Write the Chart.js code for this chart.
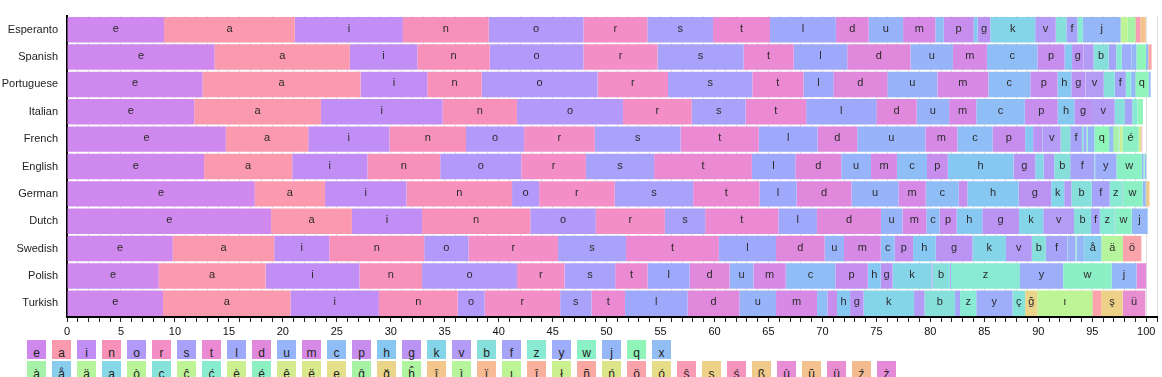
<!DOCTYPE html>
<html>
<head>
<meta charset="utf-8">
<script src="https://cdn.jsdelivr.net/npm/chart.js@4"></script>
<style>
  body { margin: 0; background: #fff; font-family: "Liberation Sans", Arial, sans-serif; }
  #wrap { position: relative; width: 1162px; height: 377px; overflow: hidden; }
  #freqChart { display: block; }
  #legend { position: absolute; left: 0; top: 340px; }
  .key { position: absolute; width: 19px; height: 19px; box-sizing: border-box; padding-top: 7px;
         font-size: 12px; line-height: 12px; text-align: center; color: #222; }
</style>
</head>
<body>
<div id="wrap">
  <canvas id="freqChart" width="1162" height="340"></canvas>
  <div id="legend"></div>
</div>
<script>
const languages = ["Esperanto", "Spanish", "Portuguese", "Italian", "French", "English",
  "German", "Dutch", "Swedish", "Polish", "Turkish"];

// stacking order of the plain letters
const baseLetters = ["e", "a", "i", "n", "o", "r", "s", "t", "l", "d", "u", "m", "c",
  "p", "h", "g", "k", "v", "b", "f", "z", "y", "w", "j", "q", "x"];
const baseColors = ["#cf88ed", "#fb9aae", "#c18ef5", "#f891ba", "#b399f9", "#f38fc6",
  "#a9a2fb", "#eb8ad3", "#9fa9fc", "#e088dc", "#97b3fa", "#d78ae5", "#8fbdf6", "#c78eee",
  "#87c8f2", "#bb93f3", "#85d5e8", "#b49bf6", "#87dfdc", "#a5a4f9", "#89ead3", "#9eaefa",
  "#8cf0c5", "#95b7f7", "#8ff5b9", "#92bef3"];

const accentLetters = ["à", "å", "ä", "ą", "ò", "ç", "ĉ", "ć", "è", "é", "ê", "ë", "ę",
  "ĝ", "ğ", "ĥ", "î", "ì", "ï", "ı", "ĵ", "ł", "ñ", "ń", "ö", "ó", "ŝ", "ş", "ś", "ß",
  "ù", "ŭ", "ü", "ź", "ż"];
const accentColors = ["#a6f2a8", "#88cdee", "#b6f59b", "#87d8e6", "#b9f598", "#87e2da",
  "#bff496", "#8aecce", "#cbef91", "#8df0c2", "#d3eb8e", "#dae88c", "#e3df8a", "#a6f3a6",
  "#ebd58a", "#aff5a0", "#f3c68e", "#b6f59b", "#f6bb95", "#bdf596", "#f8b19c", "#cbf08f",
  "#faa9a2", "#dde58a", "#fba3aa", "#e7dc88", "#f99bb4", "#edd189", "#f694be", "#f0ca8b",
  "#e88dd6", "#f3c28f", "#ea8ed2", "#f4bb91", "#e58ad8"];

// percentages, in baseLetters order
const esperanto = [8.995, 12.117, 10.012, 7.955, 8.779, 5.914, 6.092, 5.276, 6.104, 3.044, 3.183, 2.994, 0.776, 2.755, 0.384, 1.171, 4.163, 1.904, 0.980, 1.037, 0.494, 0, 0, 3.501, 0, 0];
const spanish = [13.68, 12.53, 6.25, 6.71, 8.68, 6.87, 7.98, 4.63, 4.97, 5.86, 3.93, 3.15, 4.68, 2.51, 0.70, 1.07, 0.01, 0.90, 1.42, 0.69, 0.52, 0.90, 0.01, 0.44, 0.88, 0.22];
const portuguese = [12.57, 14.63, 6.18, 5.05, 10.73, 6.53, 7.81, 4.74, 2.78, 4.99, 4.63, 4.74, 3.88, 2.52, 1.28, 1.30, 0.02, 1.67, 1.04, 1.02, 0.47, 0.01, 0.01, 0.40, 1.20, 0.21];
const italian = [11.79, 11.74, 11.28, 6.88, 9.83, 6.37, 4.98, 5.62, 6.51, 3.73, 3.01, 2.51, 4.50, 3.05, 1.54, 1.64, 0, 2.10, 0.92, 0.70, 0.49, 0, 0, 0, 0.51, 0];
const french = [14.715, 7.636, 7.529, 7.095, 5.378, 6.553, 7.948, 7.244, 5.456, 3.669, 6.311, 2.968, 3.260, 3.021, 0.737, 0.866, 0.049, 1.628, 0.901, 1.066, 0.136, 0.308, 0.114, 0.613, 1.362, 0.387];
const english = [12.702, 8.167, 6.966, 6.749, 7.507, 5.987, 6.327, 9.056, 4.025, 4.253, 2.758, 2.406, 2.782, 1.929, 6.094, 2.015, 0.772, 0.978, 1.492, 2.228, 0.074, 1.974, 2.360, 0.153, 0.095, 0.150];
const german = [17.40, 6.51, 7.55, 9.78, 2.51, 7.00, 7.27, 6.15, 3.44, 5.08, 4.35, 2.53, 3.06, 0.79, 4.76, 3.01, 1.21, 0.67, 1.89, 1.66, 1.13, 0.04, 1.89, 0.27, 0.02, 0.03];
const dutch = [18.91, 7.49, 6.50, 10.03, 6.06, 6.41, 3.73, 6.79, 3.57, 5.93, 1.99, 2.21, 1.24, 1.57, 2.38, 3.40, 2.25, 2.85, 1.58, 0.81, 1.39, 0.04, 1.52, 1.46, 0.01, 0.04];
const swedish = [9.8, 9.4, 5.1, 8.8, 4.1, 8.3, 6.3, 8.6, 5.3, 4.5, 1.8, 3.4, 1.3, 1.7, 2.1, 3.4, 3.1, 2.4, 1.3, 2.0, 0.05, 0.7, 0.1, 0.6, 0, 0.1];
const polish = [8.5, 9.9, 8.7, 5.8, 8.8, 4.4, 4.7, 3.0, 3.9, 3.7, 2.2, 3.0, 4.6, 3.0, 1.2, 1.1, 3.6, 0.1, 1.6, 0.1, 6.4, 4.0, 4.5, 2.3, 0, 0];
const turkish = [8.9, 11.8, 8.2, 7.3, 2.5, 7.0, 2.9, 3.1, 5.8, 4.8, 3.4, 3.8, 0.96, 0.89, 1.21, 1.25, 4.68, 0.96, 2.84, 0.46, 1.50, 3.34, 0, 0.03, 0, 0];

// accented letters per language
const esperantoAccents = { "ĉ": 0.657, "ĝ": 0.691, "ĥ": 0.022, "ĵ": 0.055, "ŝ": 0.385, "ŭ": 0.520 };
const spanishAccents = { "ñ": 0.31 };
const frenchAccents = { "à": 0.486, "ç": 0.085, "è": 0.271, "é": 1.504, "ê": 0.218, "ë": 0.008, "î": 0.045, "ï": 0.005, "ù": 0.058 };
const germanAccents = { "ß": 0.31 };
const swedishAccents = { "å": 1.6, "ä": 2.0, "ö": 1.7 };
const polishAccents = { "ż": 0.9 };
const turkishAccents = { "ç": 1.16, "ğ": 1.13, "ı": 5.11, "ö": 0.8, "ş": 2.0, "ü": 2.1 };

const rows = [
  [esperanto, esperantoAccents], [spanish, spanishAccents], [portuguese, {}],
  [italian, {}], [french, frenchAccents], [english, {}], [german, germanAccents],
  [dutch, {}], [swedish, swedishAccents], [polish, polishAccents], [turkish, turkishAccents],
];

const allLetters = baseLetters.concat(accentLetters);
const allColors = baseColors.concat(accentColors);

const datasets = allLetters.map((letter, k) => ({
  label: letter,
  data: rows.map(([base, acc]) => (k < baseLetters.length ? base[k] : acc[letter] || 0)),
  backgroundColor: allColors[k],
  borderWidth: 0,
  categoryPercentage: 1,
  barPercentage: 0.93,
}));

const FONT = '"Liberation Sans", Arial, sans-serif';

const barLetters = {
  id: "barLetters",
  afterDatasetsDraw(chart) {
    const ctx = chart.ctx;
    ctx.save();
    ctx.font = "11px " + FONT;
    ctx.fillStyle = "#2a2a2a";
    ctx.textAlign = "center";
    ctx.textBaseline = "middle";
    chart.data.datasets.forEach((ds, i) => {
      chart.getDatasetMeta(i).data.forEach((bar) => {
        const { x, base, y } = bar.getProps(["x", "base", "y"], true);
        const w = Math.abs(x - base);
        if (w > ctx.measureText(ds.label).width + 5.2) {
          ctx.fillText(ds.label, (x + base) / 2, y - 1);
        }
      });
    });
    ctx.restore();
  },
};

new Chart(document.getElementById("freqChart"), {
  type: "bar",
  data: { labels: languages, datasets: datasets },
  options: {
    indexAxis: "y",
    responsive: false,
    animation: false,
    devicePixelRatio: 1,
    layout: { padding: { top: 16, right: 5, left: 0, bottom: 0 } },
    plugins: { legend: { display: false }, tooltip: { enabled: false } },
    scales: {
      x: {
        stacked: true,
        min: 0,
        max: 101,
        afterFit: (scale) => { scale.height = 23; },
        ticks: {
          stepSize: 1,
          autoSkip: false,
          maxRotation: 0,
          padding: 3,
          color: "#111",
          font: { size: 11, family: FONT },
          callback: (v) => (v % 5 === 0 && v <= 100 ? v : ""),
        },
        grid: { color: "#e2e2e2", tickColor: "#222", tickLength: 5 },
        border: { color: "#000", width: 2 },
      },
      y: {
        stacked: true,
        z: 1,
        afterFit: (scale) => { scale.width = 67; },
        ticks: { padding: 9, color: "#222", font: { size: 11, family: FONT } },
        grid: { display: false, drawTicks: false },
        border: { color: "#000", width: 2 },
      },
    },
  },
  plugins: [barLetters],
});

// legend: two rows of coloured keys
const legend = document.getElementById("legend");
[[baseLetters, baseColors, 0], [accentLetters, accentColors, 21]].forEach(([list, cols, top]) => {
  list.forEach((letter, i) => {
    const key = document.createElement("div");
    key.className = "key";
    key.style.left = 27 + i * 25 + "px";
    key.style.top = top + "px";
    key.style.background = cols[i];
    key.textContent = letter;
    legend.appendChild(key);
  });
});
</script>
</body>
</html>
